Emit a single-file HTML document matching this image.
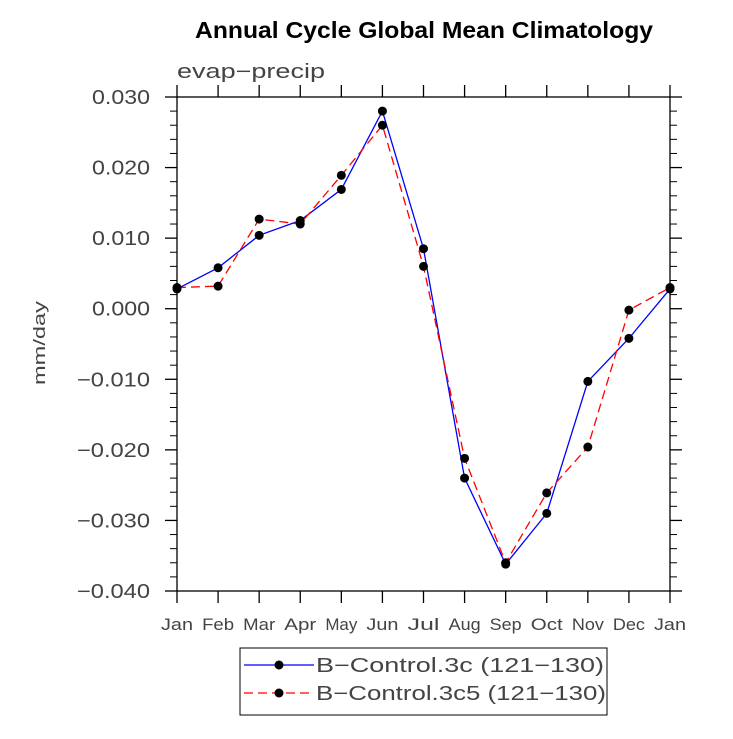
<!DOCTYPE html>
<html><head><meta charset="utf-8"><style>
body{margin:0;background:#fff}
text{font-family:"Liberation Sans",sans-serif}
</style></head><body>
<svg id="chart" width="733" height="734" xmlns="http://www.w3.org/2000/svg">
<text x="195" y="38" textLength="458" lengthAdjust="spacingAndGlyphs" font-size="23" font-weight="bold" fill="#000">Annual Cycle Global Mean Climatology</text>
<text x="177" y="78" textLength="148" lengthAdjust="spacingAndGlyphs" font-size="20" fill="#444">evap−precip</text>
<text transform="translate(45,343) rotate(-90)" text-anchor="middle" textLength="84" lengthAdjust="spacingAndGlyphs" font-size="17" fill="#444">mm/day</text>
<g id="axes"></g>
<g id="series"></g>
<g>
<rect x="240" y="648" width="367" height="67" fill="#fff" stroke="#000" stroke-width="1"/>
<line x1="244" y1="665" x2="314" y2="665" stroke="#0000ff" stroke-width="1.3"/>
<circle cx="279" cy="665" r="4.5" fill="#000"/>
<text x="316" y="672" textLength="288" lengthAdjust="spacingAndGlyphs" font-size="20" fill="#444">B−Control.3c (121−130)</text>
<line x1="244" y1="693" x2="314" y2="693" stroke="#ff0000" stroke-width="1.3" stroke-dasharray="9,5"/>
<circle cx="279" cy="693" r="4.5" fill="#000"/>
<text x="316" y="700" textLength="290" lengthAdjust="spacingAndGlyphs" font-size="20" fill="#444">B−Control.3c5 (121−130)</text>
</g>
</svg>
<script>
const months=["Jan","Feb","Mar","Apr","May","Jun","Jul","Aug","Sep","Oct","Nov","Dec","Jan"];
const blueValues=[0.0028,0.0058,0.0104,0.0125,0.0169,0.0280,0.0085,-0.0240,-0.0362,-0.0290,-0.0103,-0.0042,0.0028];
const redValues=[0.0030,0.0032,0.0127,0.0120,0.0189,0.0260,0.0060,-0.0212,-0.0360,-0.0261,-0.0196,-0.0002,0.0030];
const yTicks=[0.03,0.02,0.01,0,-0.01,-0.02,-0.03,-0.04];
const yTickLabels=["0.030","0.020","0.010","0.000","−0.010","−0.020","−0.030","−0.040"];
const L=177,R=670,T=97,B=591,ymin=-0.04,ymax=0.03;
const NS="http://www.w3.org/2000/svg";
const xs=i=>L+(R-L)*i/(months.length-1);
const ys=v=>B-(v-ymin)/(ymax-ymin)*(B-T);
const ax=document.getElementById('axes'),sr=document.getElementById('series');
function mk(t,a,p){const e=document.createElementNS(NS,t);for(const k in a)e.setAttribute(k,a[k]);p.appendChild(e);return e;}
const frame=mk('rect',{x:L,y:T,width:R-L,height:B-T,fill:'none',stroke:'#000','stroke-width':1.3},ax);


yTicks.forEach((v,i)=>{const y=ys(v);
mk('line',{x1:L-12,y1:y,x2:L,y2:y,stroke:'#000','stroke-width':1.3},ax);
mk('line',{x1:R,y1:y,x2:R+12,y2:y,stroke:'#000','stroke-width':1.3},ax);
const lab=yTickLabels[i];
const w=lab.length===5?58:73;
const t=mk('text',{x:150-w,y:y+7,textLength:w,lengthAdjust:'spacingAndGlyphs','font-size':20,fill:'#444'},ax);t.textContent=lab;


if(i<yTicks.length-1)for(let k=1;k<5;k++){const yy=ys(v-0.002*k);
mk('line',{x1:L-7,y1:yy,x2:L,y2:yy,stroke:'#000','stroke-width':1},ax);
mk('line',{x1:R,y1:yy,x2:R+7,y2:yy,stroke:'#000','stroke-width':1},ax);}});
months.forEach((m,i)=>{const x=xs(i);
mk('line',{x1:x,y1:B,x2:x,y2:B+12,stroke:'#000','stroke-width':1.3},ax);
mk('line',{x1:x,y1:T-12,x2:x,y2:T,stroke:'#000','stroke-width':1.3},ax);
const t=mk('text',{x:x-16,y:630,textLength:32,lengthAdjust:'spacingAndGlyphs','font-size':17,fill:'#444'},ax);t.textContent=m;

});
function series(vals,color,dash,name){
const p=mk('polyline',{points:vals.map((v,i)=>xs(i)+','+ys(v)).join(' '),fill:'none',stroke:color,'stroke-width':1.3,'stroke-dasharray':dash},sr);


vals.forEach((v,i)=>{const c=mk('circle',{cx:xs(i),cy:ys(v),r:4.5,fill:'#000'},sr);

});}
series(blueValues,'#0000ff','none','control-3c');
series(redValues,'#ff0000','9,5','control-3c5');
</script>
</body></html>
